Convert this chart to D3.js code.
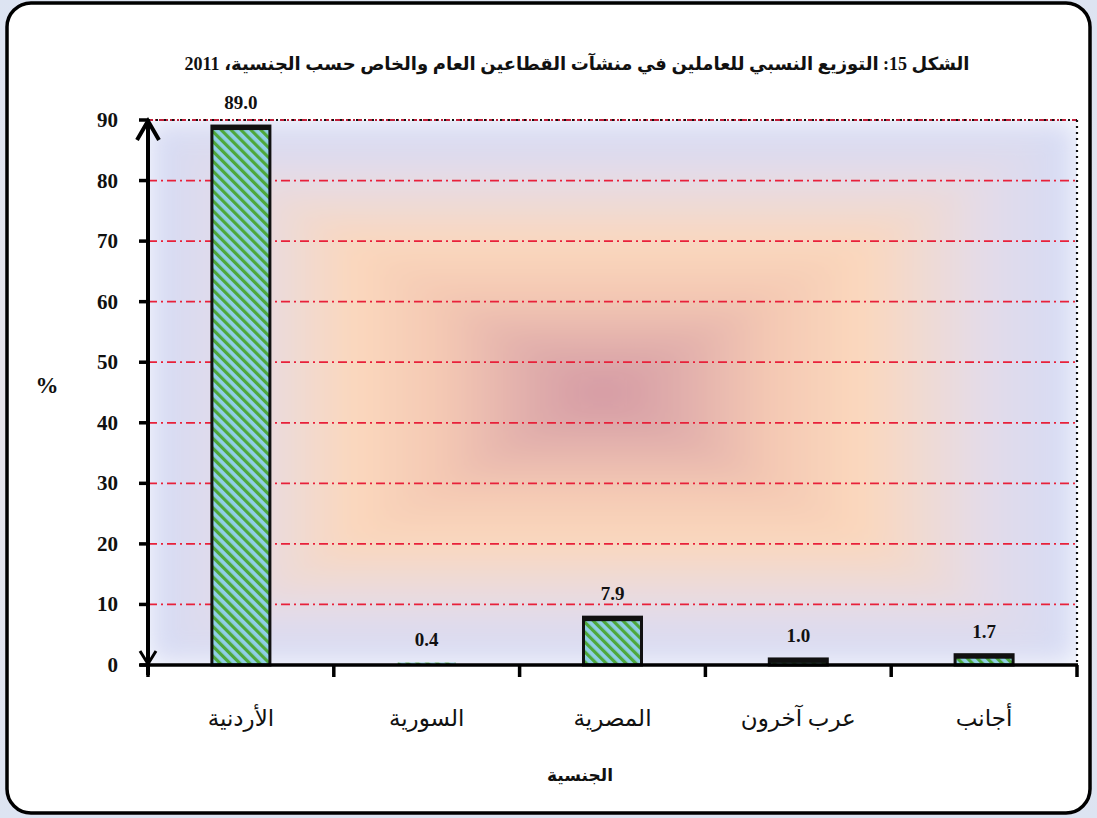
<!DOCTYPE html>
<html><head><meta charset="utf-8">
<script src="https://cdn.jsdelivr.net/npm/d3@7"></script>
<style>
html,body{margin:0;padding:0;background:#dfe5f0;}
svg{display:block;}
</style></head>
<body>
<svg id="chart" width="1097" height="818"></svg>
<script>
const categories = ["الأردنية", "السورية", "المصرية", "عرب آخرون", "أجانب"];
const values = [89.0, 0.4, 7.9, 1.0, 1.7];
const yTicks = [0, 10, 20, 30, 40, 50, 60, 70, 80, 90];
const titleText = "الشكل 15: التوزيع النسبي للعاملين في منشآت القطاعين العام والخاص حسب الجنسية، 2011";
const xAxisTitle = "الجنسية";
const yAxisTitle = "%";

const svg = d3.select("#chart");
const W = 1097, H = 818;
const m = {left: 148, right: 1077, top: 120, bottom: 665};
const fontNum = "'Liberation Serif','DejaVu Serif',serif";
const fontAr = "'Liberation Serif','DejaVu Sans',sans-serif";

const defs = svg.append("defs");
const bg = defs.append("linearGradient").attr("id","bg").attr("x1",0).attr("y1",0).attr("x2",0).attr("y2",1);
bg.append("stop").attr("offset",0).attr("stop-color","#dde4f2");
bg.append("stop").attr("offset",0.5).attr("stop-color","#e6e3ea");
bg.append("stop").attr("offset",1).attr("stop-color","#dde4f2");
svg.append("rect").attr("width",W).attr("height",H).attr("fill","url(#bg)");

svg.append("rect").attr("x",7).attr("y",3).attr("width",1083).attr("height",810)
  .attr("rx",24).attr("ry",24).attr("fill","#fff").attr("stroke","#000").attr("stroke-width",3.5);

const x = d3.scaleBand().domain(categories).range([m.left, m.right]).padding(0);
const y = d3.scaleLinear().domain([0, 90]).range([m.bottom, m.top]);

const cx = (m.left + m.right)/2 - 10, cy = (m.top + m.bottom)/2;
const stops = [[0,"#d4dbf6"],[0.2,"#e4dbe8"],[0.45,"#fbd8bd"],[0.65,"#f4c8b3"],[0.82,"#e2b0ac"],[1,"#d499a4"]];
function mkGrad(id, x1, y1, x2, y2){
  const g = defs.append("linearGradient").attr("id",id).attr("gradientUnits","userSpaceOnUse")
    .attr("x1",x1).attr("y1",y1).attr("x2",x2).attr("y2",y2);
  stops.forEach(s => g.append("stop").attr("offset",s[0]).attr("stop-color",s[1]));
}
mkGrad("gT", cx, m.top, cx, cy);
mkGrad("gB", cx, m.bottom, cx, cy);
mkGrad("gL", m.left, cy, cx, cy);
mkGrad("gR", m.right, cy, cx, cy);
const blur = defs.append("filter").attr("id","soft").attr("x",0).attr("y",0).attr("width",1).attr("height",1);
blur.append("feGaussianBlur").attr("stdDeviation",14).attr("edgeMode","duplicate");
defs.append("clipPath").attr("id","pclip").append("rect")
  .attr("x",m.left).attr("y",m.top).attr("width",m.right-m.left).attr("height",m.bottom-m.top);
const plot = svg.append("g");
const bgG = plot.append("g").attr("clip-path","url(#pclip)").append("g").attr("filter","url(#soft)");
const tri = [
  ["gT", [[m.left,m.top],[m.right,m.top],[cx,cy]]],
  ["gB", [[m.left,m.bottom],[m.right,m.bottom],[cx,cy]]],
  ["gL", [[m.left,m.top],[m.left,m.bottom],[cx,cy]]],
  ["gR", [[m.right,m.top],[m.right,m.bottom],[cx,cy]]]
];
tri.forEach(t => bgG.append("polygon").attr("points", t[1].map(p=>p.join(",")).join(" "))
  .attr("fill","url(#"+t[0]+")").attr("stroke","url(#"+t[0]+")").attr("stroke-width",0.6));

plot.selectAll("line.grid").data(yTicks.filter(d => d>0 && d<90)).join("line")
  .attr("x1", m.left).attr("x2", m.right).attr("y1", d=>y(d)).attr("y2", d=>y(d))
  .attr("stroke","#e8213a").attr("stroke-width",1.8).attr("stroke-dasharray","9,4,2,4");
plot.append("line").attr("x1",m.left).attr("x2",m.right).attr("y1",y(90)).attr("y2",y(90))
  .attr("stroke","#c0203a").attr("stroke-width",2).attr("stroke-dasharray","5,2,2,2");
plot.append("line").attr("x1",m.left).attr("x2",m.right).attr("y1",y(90)).attr("y2",y(90))
  .attr("stroke","#111").attr("stroke-width",2).attr("stroke-dasharray","2,6");
plot.append("line").attr("x1",m.right).attr("x2",m.right).attr("y1",y(90)).attr("y2",m.bottom)
  .attr("stroke","#111").attr("stroke-width",2.2).attr("stroke-dasharray","2,4");

const pat = defs.append("pattern").attr("id","stripes").attr("patternUnits","userSpaceOnUse")
  .attr("width",7).attr("height",7).attr("patternTransform","rotate(-45)");
pat.append("rect").attr("width",7).attr("height",7).attr("fill","#90cfe6");
pat.append("rect").attr("width",3.2).attr("height",7).attr("fill","#4ea83c");

const bw = 58;
const bars = svg.append("g");
categories.forEach((c,i) => {
  const v = values[i];
  const x0 = x(c) + (x.bandwidth()-bw)/2;
  const yt = y(v), h = y(0)-y(v);
  bars.append("rect").attr("x",x0).attr("y",yt).attr("width",bw).attr("height",h)
    .attr("fill","url(#stripes)").attr("stroke","#111").attr("stroke-width",h < 3 ? 0 : 3);
  if (h >= 3) bars.append("rect").attr("x",x0).attr("y",yt).attr("width",bw).attr("height",Math.min(4,h))
    .attr("fill","#111");
});

svg.append("g").selectAll("text").data(values).join("text")
  .attr("x",(d,i)=>x(categories[i])+x.bandwidth()/2)
  .attr("y",d=> y(d) - 17)
  .attr("text-anchor","middle").attr("font-family",fontNum).attr("font-weight","bold")
  .attr("font-size",19).attr("fill","#111").text(d=>d.toFixed(1));

const xAxis = svg.append("g");
xAxis.append("line").attr("x1",m.left-8).attr("x2",m.right+1).attr("y1",m.bottom).attr("y2",m.bottom)
  .attr("stroke","#000").attr("stroke-width",3.5);
const xTickPos = categories.map(c => x(c)+x.bandwidth()).concat([m.left]);
xAxis.selectAll("line.t").data(xTickPos).join("line")
  .attr("x1",d=>d).attr("x2",d=>d).attr("y1",m.bottom).attr("y2",m.bottom+12)
  .attr("stroke","#000").attr("stroke-width",3.5);
xAxis.selectAll("text").data(categories).join("text")
  .attr("x",d=>x(d)+x.bandwidth()/2).attr("y",726)
  .attr("text-anchor","middle").attr("font-family",fontAr).attr("font-size",23)
  .attr("direction","rtl").attr("fill","#111").text(d=>d);

const yAxis = svg.append("g");
yAxis.append("line").attr("x1",m.left).attr("x2",m.left).attr("y1",m.top).attr("y2",m.bottom+10)
  .attr("stroke","#000").attr("stroke-width",4);
yAxis.selectAll("line.t").data(yTicks).join("line")
  .attr("x1",m.left-9).attr("x2",m.left).attr("y1",d=>y(d)).attr("y2",d=>y(d))
  .attr("stroke","#000").attr("stroke-width",3.5);
yAxis.append("path").attr("d",`M${m.left-11},${m.top+20} L${m.left},${m.top+1} L${m.left+11},${m.top+20}`)
  .attr("fill","none").attr("stroke","#000").attr("stroke-width",4).attr("stroke-linejoin","miter");
yAxis.append("path").attr("d",`M${m.left-8},${m.bottom-14} L${m.left},${m.bottom-1} L${m.left+8},${m.bottom-14}`)
  .attr("fill","none").attr("stroke","#000").attr("stroke-width",3);
yAxis.selectAll("text").data(yTicks).join("text")
  .attr("x",118).attr("y",d=>y(d)+7).attr("text-anchor","end")
  .attr("font-family",fontNum).attr("font-weight","bold").attr("font-size",21).attr("fill","#111")
  .text(d=>d);

svg.append("text").attr("x",577).attr("y",70).attr("text-anchor","middle").attr("direction","rtl")
  .attr("font-family",fontAr).attr("font-weight","bold").attr("font-size",18).attr("fill","#111")
  .text(titleText);
svg.append("text").attr("x",580).attr("y",781).attr("text-anchor","middle").attr("direction","rtl")
  .attr("font-family",fontAr).attr("font-weight","bold").attr("font-size",17).attr("fill","#111")
  .text(xAxisTitle);
svg.append("text").attr("x",47).attr("y",393).attr("text-anchor","middle")
  .attr("font-family",fontNum).attr("font-weight","bold").attr("font-size",23).attr("fill","#111")
  .text(yAxisTitle);
</script>
</body></html>
